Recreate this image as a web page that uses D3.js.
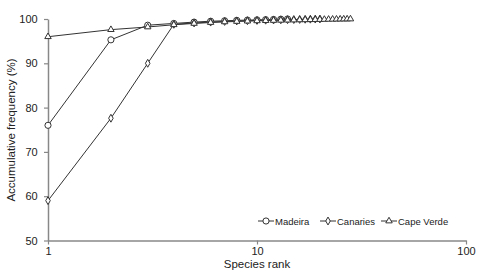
<!DOCTYPE html>
<html><head><meta charset="utf-8">
<script src="https://cdn.jsdelivr.net/npm/d3@7"></script>
<style>body{margin:0;background:#fff}svg{display:block;font-family:"Liberation Sans",Arial,sans-serif}</style>
</head><body><svg id="c" width="478" height="276"></svg>
<script>
const seriesNames = ["Madeira", "Canaries", "Cape Verde"];
const madeira = [76, 95.3, 98.6, 99.0, 99.3, 99.5, 99.6, 99.7, 99.75, 99.8, 99.85, 99.9, 99.95, 100];
const canaries = [59, 77.6, 90, 98.8, 99.1, 99.3, 99.45, 99.55, 99.62, 99.68, 99.73, 99.77, 99.81, 99.85, 99.88, 99.91, 99.94, 99.96, 99.98, 100];
const capeVerde = [96, 97.6, 98.2, 98.7, 99.0, 99.2, 99.35, 99.45, 99.52, 99.58, 99.63, 99.67, 99.71, 99.74, 99.77, 99.8, 99.82, 99.84, 99.86, 99.88, 99.9, 99.92, 99.94, 99.95, 99.97, 99.98, 99.99, 100];
const xTicks = [1, 10, 100];
const yTicks = [50, 60, 70, 80, 90, 100];

const svg = d3.select("#c");
const x = d3.scaleLog().domain([1, 100]).range([48, 466]);
const y = d3.scaleLinear().domain([50, 100]).range([240.5, 19]);
const axisCol = "#888";
const lineCol = "#333";

const xa = svg.append("g").attr("transform", "translate(0,240.5)")
  .call(d3.axisBottom(x).tickValues(xTicks).tickFormat(d3.format("d")).tickSize(4).tickPadding(3).tickSizeOuter(0));
const ya = svg.append("g").attr("transform", "translate(48,0)")
  .call(d3.axisLeft(y).tickValues(yTicks).tickSize(4).tickSizeOuter(0));
[xa, ya].forEach(a => {
  a.select(".domain").attr("stroke", axisCol).attr("stroke-width", 1.5);
  a.selectAll(".tick line").attr("stroke", axisCol).attr("stroke-width", 1.2);
  a.selectAll("text").attr("fill", "#222").style("font-size", "11px");
});
ya.selectAll("text").attr("dx", "-0.3em");

svg.append("text").attr("x", 257).attr("y", 268).attr("text-anchor", "middle")
  .style("font-size", "11.5px").attr("fill", "#222").text("Species rank");
svg.append("text").attr("transform", "translate(15,130) rotate(-90)").attr("text-anchor", "middle")
  .style("font-size", "11.5px").attr("fill", "#222").text("Accumulative frequency (%)");

const data = [madeira, canaries, capeVerde];
const shapes = [d3.symbolCircle, d3.symbolDiamond, d3.symbolTriangle];
const sizes = [30, 18, 18];
const line = d3.line().x((d, i) => x(i + 1)).y(d => y(d));

data.forEach((vals) => {
  svg.append("path").datum(vals).attr("d", line).attr("fill", "none")
    .attr("stroke", lineCol).attr("stroke-width", 1);
});
data.forEach((vals, k) => {
  svg.append("g").selectAll("path").data(vals).join("path")
    .attr("transform", (d, i) => `translate(${x(i + 1)},${y(d)})`)
    .attr("d", d3.symbol().type(shapes[k]).size(sizes[k]))
    .attr("fill", "#fff").attr("stroke", lineCol).attr("stroke-width", 1);
});

const legX = [258, 320, 381];
const lg = svg.append("g");
seriesNames.forEach((n, k) => {
  const g = lg.append("g").attr("transform", `translate(${legX[k]},221)`);
  g.append("line").attr("x1", 0).attr("x2", 16).attr("stroke", lineCol).attr("stroke-width", 1);
  g.append("path").attr("transform", "translate(8,0)")
    .attr("d", d3.symbol().type(shapes[k]).size(sizes[k])).attr("fill", "#fff").attr("stroke", lineCol);
  g.append("text").attr("x", 17).attr("y", 3.5).style("font-size", "9.5px").attr("fill", "#222").text(n);
});
</script></body></html>
